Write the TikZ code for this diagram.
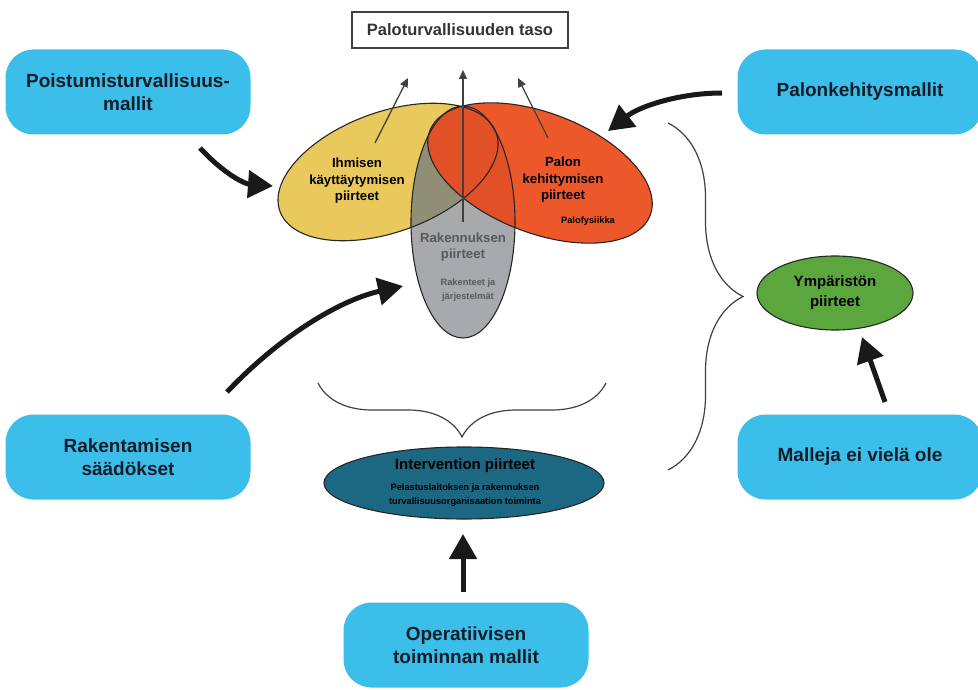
\documentclass[tikz,border=0pt]{standalone}
\usepackage{fontspec}
\setmainfont{Liberation Sans}
\usetikzlibrary{arrows.meta,shapes.geometric,decorations.pathreplacing}
\definecolor{boxBlue}{RGB}{60,190,234}
\definecolor{boxText}{RGB}{20,28,40}
\definecolor{ihmFill}{RGB}{233,200,92}
\definecolor{palFill}{RGB}{236,88,42}
\definecolor{palDark}{RGB}{226,80,40}
\definecolor{rakFill}{RGB}{168,169,172}
\definecolor{oliveFill}{RGB}{145,142,118}
\definecolor{intFill}{RGB}{28,104,130}
\definecolor{ympFill}{RGB}{92,166,62}
\begin{document}
\begin{tikzpicture}[x=1pt,y=-1pt,
    mallibox/.style={rounded corners=28pt,fill=boxBlue,minimum width=245pt,minimum height=85pt,
        align=center,text=boxText,font=\fontsize{19}{23}\selectfont\bfseries},
    ellText/.style={align=center,font=\fontsize{13.2}{16.5}\selectfont\bfseries},
    smallText/.style={align=center,font=\fontsize{9.3}{13.5}\selectfont\bfseries},
    ellLine/.style={draw=black!85,line width=1.1pt},
    bigArrow/.style={line width=5pt,draw=black!90,-{Triangle[length=25pt,width=27pt]}},
    thinArrow/.style={line width=1.3pt,draw=black!75,-{Triangle[length=9pt,width=8pt]}},
    curly/.style={draw=black!75,line width=1.2pt,decorate,decoration={brace,amplitude=#1}}]
    \useasboundingbox (0,0) rectangle (978,690);
    \pgfmathsetmacro{\sideA}{115}
    \pgfmathsetmacro{\sideB}{60}
    \pgfmathsetmacro{\rakA}{52}
    \pgfmathsetmacro{\rakB}{116}
    \coordinate (ihm) at (388,172);
    \coordinate (pal) at (540,173);
    \coordinate (rak) at (463,222);

    % the three overlapping ellipses
    \fill[ihmFill,rotate around={20:(ihm)}] (ihm) ellipse [x radius=\sideA,y radius=\sideB];
    \fill[rakFill] (rak) ellipse [x radius=\rakA,y radius=\rakB];
    \begin{scope}
        \clip[rotate around={20:(ihm)}] (ihm) ellipse [x radius=\sideA,y radius=\sideB];
        \fill[oliveFill] (rak) ellipse [x radius=\rakA,y radius=\rakB];
    \end{scope}
    \fill[palFill,rotate around={-21:(pal)}] (pal) ellipse [x radius=118,y radius=\sideB];
    \begin{scope}
        \clip[rotate around={-21:(pal)}] (pal) ellipse [x radius=118,y radius=\sideB];
        \fill[palDark] (rak) ellipse [x radius=\rakA,y radius=\rakB];
    \end{scope}
    \draw[ellLine,rotate around={20:(ihm)}] (ihm) ellipse [x radius=\sideA,y radius=\sideB];
    \draw[ellLine] (rak) ellipse [x radius=\rakA,y radius=\rakB];
    \draw[ellLine,rotate around={-21:(pal)}] (pal) ellipse [x radius=118,y radius=\sideB];

    % arrows up to the level
    \coordinate (ihmFrom) at (375,143);
    \coordinate (ihmTo) at (408,78);
    \coordinate (rakFrom) at (463,222);
    \coordinate (rakTo) at (463,70);
    \coordinate (palFrom) at (548,138);
    \coordinate (palTo) at (518,78);
    \draw[thinArrow] (ihmFrom) -- (ihmTo);
    \draw[thinArrow] (rakFrom) -- (rakTo);
    \draw[thinArrow] (palFrom) -- (palTo);

    \node[ellText] (ihmText) at (357,181) {Ihmisen\\käyttäytymisen\\piirteet};
    \node[ellText] (palText) at (563,180) {Palon\\kehittymisen\\piirteet};
    \node[smallText] (palSub) at (588,221) {Palofysiikka};
    \node[ellText,text=black!65] (rakText) at (463,247) {Rakennuksen\\piirteet};
    \node[smallText,text=black!65] (rakSub) at (468,290) {Rakenteet ja\\järjestelmät};

    \node[draw=black!75,line width=1.4pt,minimum width=216pt,minimum height=36pt,text=black!80,
        font=\fontsize{16.5}{20}\selectfont\bfseries] (taso) at (460,30) {Paloturvallisuuden taso};

    \node[ellipse,fill=intFill,ellLine,minimum width=280pt,minimum height=72pt] (interv) at (464,483) {};
    \node[font=\fontsize{15}{18}\selectfont\bfseries] (intTitle) at (465,466) {Intervention piirteet};
    \node[smallText] (intSub) at (465,495) {Pelastuslaitoksen ja rakennuksen\\turvallisuusorganisaation toiminta};

    \node[ellipse,fill=ympFill,ellLine,minimum width=156pt,minimum height=74pt,inner sep=0pt,
        align=center,font=\fontsize{15}{20}\selectfont\bfseries] (ymp) at (835,293) {Ympäristön\\piirteet};

    \foreach \nm/\px/\py/\txt in {poist/128/92/{Poistumisturvallisuus-\\mallit},
        palo/860/92/{Palonkehitysmallit},rakent/128/457/{Rakentamisen\\säädökset},
        malleja/860/457/{Malleja ei vielä ole},oper/466/645/{Operatiivisen\\toiminnan mallit}}
        \node[mallibox] (\nm) at (\px,\py) {\txt};

    % braces
    \coordinate (braceL) at (318,383);
    \coordinate (braceR) at (606,383);
    \coordinate (braceT) at (668,123);
    \coordinate (braceB) at (668,470);
    \draw[curly=54pt] (braceR) -- (braceL);
    \draw[curly=75pt] (braceT) -- (braceB);

    % model arrows
    \coordinate (poistFrom) at (200,148);
    \coordinate (poistTo) at (273,186);
    \coordinate (paloFrom) at (722,93);
    \coordinate (paloTo) at (608,131);
    \coordinate (rakentFrom) at (227,392);
    \coordinate (rakentTo) at (403,286);
    \coordinate (mallejaFrom) at (885,402);
    \coordinate (mallejaTo) at (862,337);
    \coordinate (operFrom) at (463,592);
    \coordinate (operTo) at (463,534);
    \draw[bigArrow] (poistFrom) .. controls (226,176) and (246,184) .. (poistTo);
    \draw[bigArrow] (paloFrom) .. controls (680,93) and (640,106) .. (paloTo);
    \draw[bigArrow] (rakentFrom) .. controls (280,336) and (340,300) .. (rakentTo);
    \draw[bigArrow] (mallejaFrom) -- (mallejaTo);
    \draw[bigArrow] (operFrom) -- (operTo);
\end{tikzpicture}
\end{document}
